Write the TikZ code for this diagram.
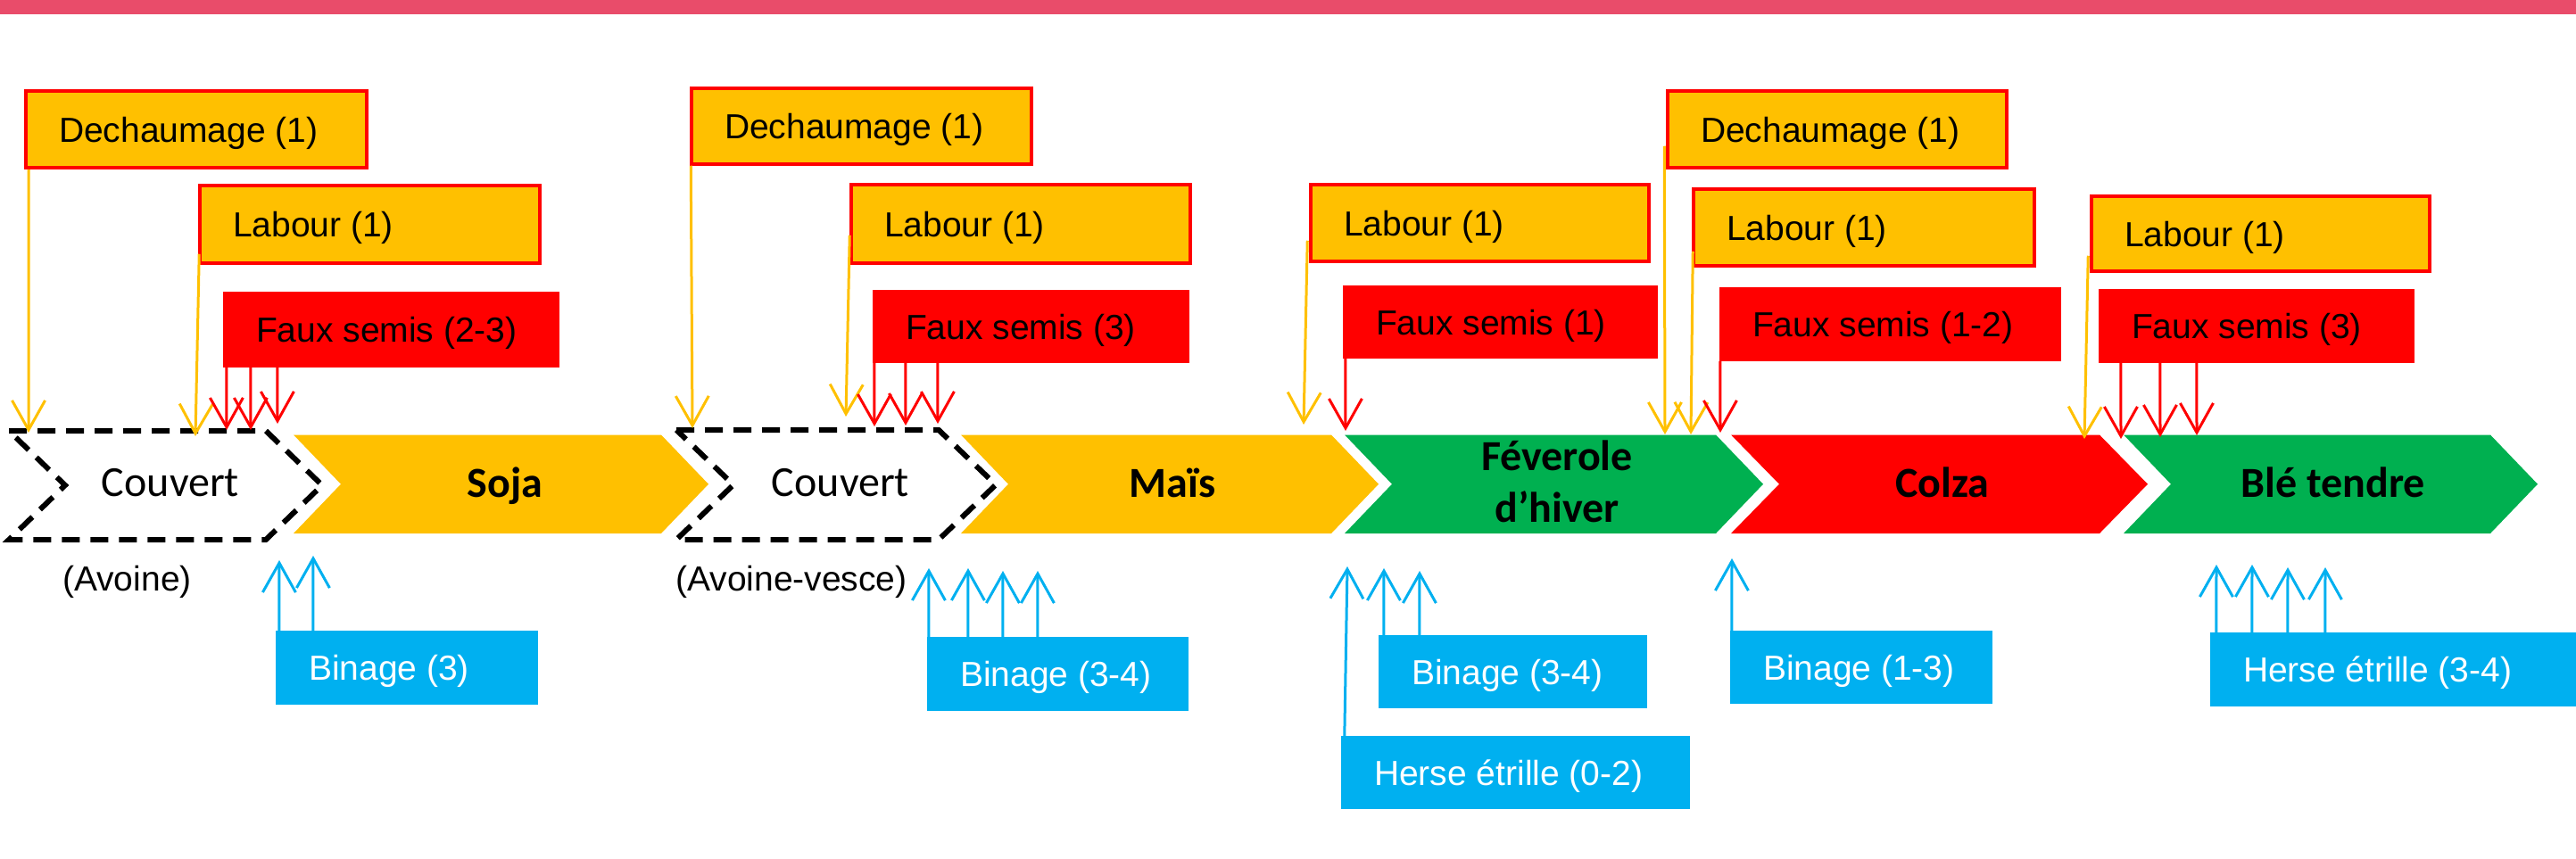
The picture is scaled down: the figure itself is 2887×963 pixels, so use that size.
\documentclass[tikz,border=0pt]{standalone}
\usepackage{fontspec}
\setmainfont{Liberation Sans}
\newfontfamily\calibri{Carlito}
\usetikzlibrary{arrows.meta}
\definecolor{cyel}{HTML}{FFC000}
\definecolor{cred}{HTML}{FF0000}
\definecolor{cgreen}{HTML}{00B050}
\definecolor{cblue}{HTML}{00B0F0}
\definecolor{cpink}{HTML}{E94C6A}
\newcommand\boxfont{\fontsize{39}{47}\selectfont}
\newcommand\chevfont{\calibri\fontsize{48}{58}\selectfont}
\newcommand\abox[7]{%
  \pgfmathsetmacro\bw{#5-#3}\pgfmathsetmacro\bh{#6-#4}%
  \node[#2, minimum width=\bw pt, minimum height=\bh pt, text width=\bw pt,
        inner sep=0pt, text height=36pt, text depth=8pt, align=flush left]
        (#1) at ({(#3+#5)/2},{(#4+#6)/2}) {\hspace*{37pt}#7};}
\newcommand\chev[6]{%
  \fill[#1] (#2,#4) -- (#3,#4) -- ({#3+#6},{(#4+#5)/2}) -- (#3,#5) -- (#2,#5)
    -- ({#2+#6},{(#4+#5)/2}) -- cycle;}
\newcommand\dchev[6]{%
  \draw[#1] (#2,#4) -- (#3,#4) -- ({#3+#6},{(#4+#5)/2}) -- (#3,#5) -- (#2,#5)
    -- ({#2+#6},{(#4+#5)/2}) -- cycle;}
\tikzset{
  ybox/.style={fill=cyel, draw=cred, line width=3.5pt, text=black, font=\boxfont},
  rbox/.style={fill=cred, text=black, font=\boxfont},
  bbox/.style={fill=cblue, text=white, font=\boxfont},
  tipv/.style={-{Straight Barb[length=33pt,width=37pt]}},
  yarr/.style={draw=cyel, line width=3pt, tipv},
  rarr/.style={draw=cred, line width=3pt, tipv},
  barr/.style={draw=cblue, line width=3pt, tipv},
  dashchev/.style={draw=black, line width=6pt, dash pattern=on 20pt off 12pt, line join=miter},
  chevlab/.style={font=\chevfont\bfseries, text=black, inner sep=0pt},
  couvlab/.style={font=\chevfont, text=black, inner sep=0pt},
  sublab/.style={font=\boxfont, text=black, inner sep=0pt}
}
\begin{document}
\begin{tikzpicture}[x=1pt,y=-1pt]
\useasboundingbox (0,0) rectangle (2887,963);
\fill[cpink] (0,0) rectangle (2887,16);

% crop chevrons
\chev{cyel}{329}{741}{487.5}{598}{53}
\chev{cyel}{1077}{1492}{487.5}{598}{53}
\chev{cgreen}{1507}{1923}{487.5}{598}{53}
\chev{cred}{1940}{2353}{487.5}{598}{54}
\chev{cgreen}{2380}{2791}{487.5}{598}{53}
\dchev{dashchev}{10}{298}{483}{605}{63}
\dchev{dashchev}{758}{1052}{482}{605}{64}

% crop labels
\node[couvlab, anchor=base] (couv1) at (191,556) {Couvert};
\node[chevlab, anchor=base] (soja) at (566,557) {Soja};
\node[couvlab, anchor=base] (couv2) at (942,556) {Couvert};
\node[chevlab, anchor=base] (mais) at (1314,557) {Maïs};
\node[chevlab, anchor=base] (fev1) at (1745,527) {Féverole};
\node[chevlab, anchor=base] (fev2) at (1745,585) {d’hiver};
\node[chevlab, anchor=base] (colza) at (2177,557) {Colza};
\node[chevlab, anchor=base] (ble) at (2615,557) {Blé tendre};
\node[sublab, anchor=base west] (av1) at (70,662) {(Avoine)};
\node[sublab, anchor=base west] (av2) at (757,662) {(Avoine-vesce)};

% operation boxes
\abox{d1}{ybox}{29}{102}{411}{188}{Dechaumage (1)}
\abox{l1}{ybox}{224}{208}{605}{295}{Labour (1)}
\abox{f1}{rbox}{250}{327}{627}{412}{Faux semis (2-3)}
\abox{d2}{ybox}{775}{99}{1156}{184}{Dechaumage (1)}
\abox{l2}{ybox}{954}{207}{1334}{295}{Labour (1)}
\abox{f2}{rbox}{978}{325}{1333}{407}{Faux semis (3)}
\abox{l3}{ybox}{1469}{207}{1848}{293}{Labour (1)}
\abox{f3}{rbox}{1505}{320}{1858}{402}{Faux semis (1)}
\abox{d3}{ybox}{1869}{102}{2249}{188}{Dechaumage (1)}
\abox{l4}{ybox}{1898}{212}{2280}{298}{Labour (1)}
\abox{f4}{rbox}{1927}{322}{2310}{405}{Faux semis (1-2)}
\abox{l5}{ybox}{2344}{220}{2723}{304}{Labour (1)}
\abox{f5}{rbox}{2352}{324}{2706}{407}{Faux semis (3)}
\abox{b1}{bbox}{309}{707}{603}{790}{Binage (3)}
\abox{b2}{bbox}{1039}{714}{1332}{797}{Binage (3-4)}
\abox{b3}{bbox}{1545}{712}{1846}{794}{Binage (3-4)}
\abox{b4}{bbox}{1939}{707}{2233}{789}{Binage (1-3)}
\abox{h1}{bbox}{1503}{825}{1894}{907}{Herse étrille (0-2)}
\abox{h2}{bbox}{2477}{709}{2887}{792}{Herse étrille (3-4)}

% arrow end points
\coordinate (td1) at (32,485);
\coordinate (tl1) at (219,489);
\coordinate (td2) at (776,480);
\coordinate (tl2) at (948,467);
\coordinate (tl3) at (1461,476);
\coordinate (td3) at (1866,487);
\coordinate (tl4) at (1895,487);
\coordinate (tl5) at (2336,492);
\coordinate (tf1a) at (254,482);
\coordinate (tf1b) at (281,482);
\coordinate (tf1c) at (311,475);
\coordinate (tf2a) at (980,478);
\coordinate (tf2b) at (1015,477);
\coordinate (tf2c) at (1051,475);
\coordinate (tf3) at (1508,483);
\coordinate (tf4) at (1928,485);
\coordinate (tf5a) at (2377,492);
\coordinate (tf5b) at (2421,490);
\coordinate (tf5c) at (2462,488);
\coordinate (tb1a) at (313,628);
\coordinate (tb1b) at (351,623);
\coordinate (tb2a) at (1041,637);
\coordinate (tb2b) at (1085,637);
\coordinate (tb2c) at (1124,640);
\coordinate (tb2d) at (1163,640);
\coordinate (th1) at (1510,635);
\coordinate (tb3a) at (1551,637);
\coordinate (tb3b) at (1591,640);
\coordinate (tb4) at (1941,626);
\coordinate (th2a) at (2484,633);
\coordinate (th2b) at (2524,633);
\coordinate (th2c) at (2564,636);
\coordinate (th2d) at (2606,636);

% yellow arrows
\draw[yarr] ([xshift=5pt]d1.south west) -- (td1);
\draw[yarr] ([xshift=1pt,yshift=12pt]l1.south west) -- (tl1);
\draw[yarr] ([xshift=1pt]d2.south west) -- (td2);
\draw[yarr] ([yshift=33pt]l2.south west) -- (tl2);
\draw[yarr] ([xshift=-2pt,yshift=25pt]l3.south west) -- (tl3);
\draw[yarr] ([xshift=-2pt,yshift=26pt]d3.south west) -- (td3);
\draw[yarr] ([xshift=1pt,yshift=18pt]l4.south west) -- (tl4);
\draw[yarr] ([xshift=-2pt,yshift=19pt]l5.south west) -- (tl5);
% red arrows
\draw[rarr] ([xshift=4pt]f1.south west) -- (tf1a);
\draw[rarr] ([xshift=31pt]f1.south west) -- (tf1b);
\draw[rarr] ([xshift=61pt]f1.south west) -- (tf1c);
\draw[rarr] ([xshift=2pt]f2.south west) -- (tf2a);
\draw[rarr] ([xshift=37pt]f2.south west) -- (tf2b);
\draw[rarr] ([xshift=73pt]f2.south west) -- (tf2c);
\draw[rarr] ([xshift=3pt]f3.south west) -- (tf3);
\draw[rarr] ([xshift=1pt]f4.south west) -- (tf4);
\draw[rarr] ([xshift=25pt]f5.south west) -- (tf5a);
\draw[rarr] ([xshift=69pt]f5.south west) -- (tf5b);
\draw[rarr] ([xshift=110pt]f5.south west) -- (tf5c);
% blue arrows
\draw[barr] ([xshift=4pt]b1.north west) -- (tb1a);
\draw[barr] ([xshift=42pt]b1.north west) -- (tb1b);
\draw[barr] ([xshift=2pt]b2.north west) -- (tb2a);
\draw[barr] ([xshift=46pt]b2.north west) -- (tb2b);
\draw[barr] ([xshift=85pt]b2.north west) -- (tb2c);
\draw[barr] ([xshift=124pt]b2.north west) -- (tb2d);
\draw[barr] ([xshift=4pt]h1.north west) -- (th1);
\draw[barr] ([xshift=6pt]b3.north west) -- (tb3a);
\draw[barr] ([xshift=46pt]b3.north west) -- (tb3b);
\draw[barr] ([xshift=2pt]b4.north west) -- (tb4);
\draw[barr] ([xshift=7pt]h2.north west) -- (th2a);
\draw[barr] ([xshift=47pt]h2.north west) -- (th2b);
\draw[barr] ([xshift=87pt]h2.north west) -- (th2c);
\draw[barr] ([xshift=129pt]h2.north west) -- (th2d);
\end{tikzpicture}
\end{document}
